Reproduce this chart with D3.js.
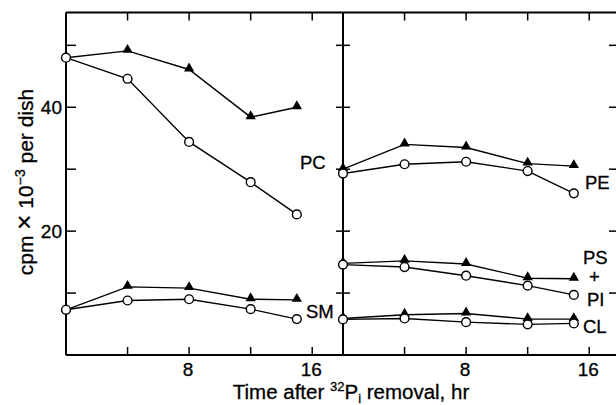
<!DOCTYPE html>
<html><head><meta charset="utf-8">
<script src="https://cdn.jsdelivr.net/npm/d3@7"></script>
<style>
html,body{margin:0;padding:0;background:#fff;}
text{font-family:"Liberation Sans",Arial,sans-serif;fill:#000;stroke:#000;stroke-width:0.3px;}
</style></head>
<body>
<svg id="c" width="616" height="405"></svg>
<script>
const times = [0, 4, 8, 12, 15];
const pcTri  = [48.0, 49.1, 46.1, 38.4, 40.0];
const pcCirc = [48.0, 44.6, 34.4, 27.9, 22.7];
const smTri  = [7.3, 11.0, 10.8, 9.0, 8.9];
const smCirc = [7.3, 8.8, 9.0, 7.4, 5.8];
const peTri  = [30.0, 34.0, 33.5, 30.9, 30.5];
const peCirc = [29.3, 30.8, 31.2, 29.7, 26.1];
const psTri  = [14.8, 15.2, 14.7, 12.4, 12.3];
const psCirc = [14.6, 14.2, 12.8, 11.2, 9.7];
const clTri  = [5.9, 6.5, 6.7, 5.8, 5.8];
const clCirc = [5.75, 5.9, 5.3, 4.95, 5.1];
const xTicks = [4, 8, 12, 16];
const xTickLabels = [8, 16];
const yTicks = [10, 20, 30, 40, 50];
const yTickLabels = [20, 40];

const svg = d3.select("#c");
const yTop = 12.5, yBot = 355;
const y = d3.scaleLinear().domain([0, 55.3]).range([yBot, yTop]);
const xL = d3.scaleLinear().domain([0, 18]).range([66, 343]);
const xR = d3.scaleLinear().domain([0, 18]).range([343, 620]);

// frame
const fr = svg.append("g").attr("stroke", "#000").attr("stroke-width", 2).attr("fill", "none");
fr.append("line").attr("x1", 66).attr("x2", 620).attr("y1", yTop).attr("y2", yTop);
fr.append("line").attr("x1", 66).attr("x2", 620).attr("y1", yBot).attr("y2", yBot);
fr.append("line").attr("x1", 66).attr("x2", 66).attr("y1", yTop).attr("y2", yBot);
fr.append("line").attr("x1", 343).attr("x2", 343).attr("y1", yTop).attr("y2", yBot);
fr.append("line").attr("x1", 620).attr("x2", 620).attr("y1", yTop).attr("y2", yBot);

const tk = svg.append("g").attr("stroke", "#000").attr("stroke-width", 1.5);
[xL, xR].forEach(xs => {
  xTicks.forEach(t => {
    tk.append("line").attr("x1", xs(t)).attr("x2", xs(t)).attr("y1", yBot).attr("y2", yBot - 8);
    tk.append("line").attr("x1", xs(t)).attr("x2", xs(t)).attr("y1", yTop).attr("y2", yTop + 8);
  });
});
yTicks.forEach(v => {
  tk.append("line").attr("x1", 66).attr("x2", 76).attr("y1", y(v)).attr("y2", y(v));
  tk.append("line").attr("x1", 336).attr("x2", 350).attr("y1", y(v)).attr("y2", y(v));
  tk.append("line").attr("x1", 609).attr("x2", 620).attr("y1", y(v)).attr("y2", y(v));
});

// tick labels
yTickLabels.forEach(v => {
  svg.append("text").attr("x", 62).attr("y", y(v) + 7).attr("text-anchor", "end")
    .attr("font-size", 19).text(v);
});
[xL, xR].forEach(xs => {
  xTickLabels.forEach(t => {
    svg.append("text").attr("x", xs(t) - 1).attr("y", 376).attr("text-anchor", "middle")
      .attr("font-size", 19).text(t);
  });
});

// axis titles
const xt = svg.append("text").attr("x", 351).attr("y", 399).attr("text-anchor", "middle").attr("font-size", 20.5);
xt.append("tspan").text("Time after ");
xt.append("tspan").attr("font-size", 13).attr("dy", -8).text("32");
xt.append("tspan").attr("dy", 8).text("P");
xt.append("tspan").attr("font-size", 13).attr("dy", 4).text("i");
xt.append("tspan").attr("dy", -4).text(" removal, hr");

const yt = svg.append("text").attr("transform", "translate(33,182) rotate(-90)")
  .attr("text-anchor", "middle").attr("font-size", 21);
yt.append("tspan").text("cpm ");
yt.append("tspan").attr("font-size", 26).text("\u00D7");
yt.append("tspan").text(" 10");
yt.append("tspan").attr("font-size", 14).attr("dy", -8).text("\u22123");
yt.append("tspan").attr("dy", 8).text(" per dish");

// series
const series = [
  {xs: xL, tri: pcTri, circ: pcCirc},
  {xs: xL, tri: smTri, circ: smCirc},
  {xs: xR, tri: peTri, circ: peCirc},
  {xs: xR, tri: psTri, circ: psCirc},
  {xs: xR, tri: clTri, circ: clCirc}
];
const tri = d3.symbol().type(d3.symbolTriangle).size(46);
series.forEach(s => {
  const line = d3.line().x((d, i) => s.xs(times[i])).y(d => y(d));
  svg.append("path").attr("d", line(s.tri)).attr("fill", "none").attr("stroke", "#000").attr("stroke-width", 1.4);
  svg.append("path").attr("d", line(s.circ)).attr("fill", "none").attr("stroke", "#000").attr("stroke-width", 1.4);
  s.tri.forEach((v, i) => {
    svg.append("path").attr("d", tri).attr("transform", `translate(${s.xs(times[i])},${y(v) - 1})`)
      .attr("fill", "#000");
  });
  s.circ.forEach((v, i) => {
    svg.append("circle").attr("cx", s.xs(times[i])).attr("cy", y(v)).attr("r", 4.4)
      .attr("fill", "#fff").attr("stroke", "#000").attr("stroke-width", 1.4);
  });
});

// labels
const labs = [
  {t: "PC", x: 300, y: 169},
  {t: "SM", x: 306, y: 318},
  {t: "PE", x: 585, y: 189},
  {t: "PS", x: 583, y: 264},
  {t: "+", x: 589, y: 283},
  {t: "PI", x: 587, y: 306},
  {t: "CL", x: 583, y: 333}
];
labs.forEach(l => svg.append("text").attr("x", l.x).attr("y", l.y).attr("font-size", 18.5).text(l.t));
</script>
</body></html>
